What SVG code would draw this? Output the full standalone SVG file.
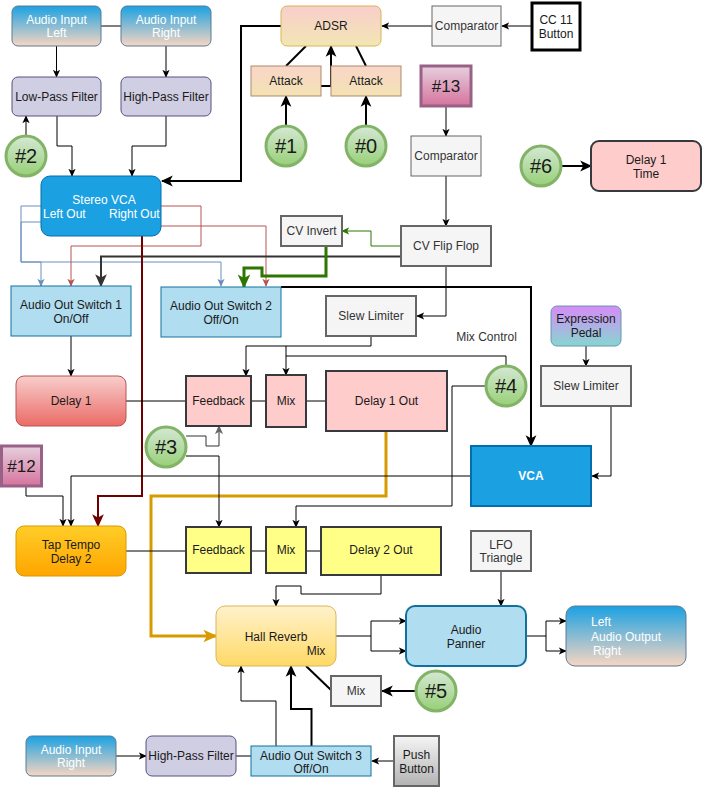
<svg xmlns="http://www.w3.org/2000/svg" width="703" height="795" viewBox="0 0 703 795">
<style>
text{font-family:"Liberation Sans",Arial,sans-serif;font-size:12px;fill:#1a1a1a;text-anchor:middle;dominant-baseline:central}
.w{fill:#ffffff}
.g{fill:#333333}
.big{font-size:20px}
.mid{font-size:17px}
.st{text-anchor:start}
.ln{fill:none;stroke:#000;stroke-width:1}
.th{fill:none;stroke:#000;stroke-width:2}
.gray{fill:#f5f5f5;stroke:#666666;stroke-width:2}
.pink{fill:#ffcccc;stroke:#36393d;stroke-width:2}
.yel{fill:#ffff88;stroke:#36393d;stroke-width:2}
.sw{fill:#b1ddf0;stroke:#10739e;stroke-width:1}
.flt{fill:#d0cee2;stroke:#56517e;stroke-width:1}
.inp{fill:url(#gIn);stroke:#5a7b93;stroke-width:1}
.circ{fill:url(#gGreen);stroke:#82b366;stroke-width:3}
.mag{fill:url(#gMag);stroke:#996185;stroke-width:3}
</style>
<defs>
<linearGradient id="gIn" x1="0" y1="0" x2="0" y2="1"><stop offset="0" stop-color="#1ba1e2"/><stop offset="1" stop-color="#f8d6c2"/></linearGradient>
<linearGradient id="gGreen" x1="0" y1="0" x2="0" y2="1"><stop offset="0" stop-color="#d5e8d4"/><stop offset="1" stop-color="#97d077"/></linearGradient>
<linearGradient id="gMag" x1="0" y1="0" x2="0" y2="1"><stop offset="0" stop-color="#e6d0de"/><stop offset="1" stop-color="#d5739d"/></linearGradient>
<linearGradient id="gAdsr" x1="0" y1="0" x2="0" y2="1"><stop offset="0" stop-color="#f8cecc"/><stop offset="1" stop-color="#f3e6b3"/></linearGradient>
<linearGradient id="gAtk" x1="0" y1="0" x2="0" y2="1"><stop offset="0" stop-color="#f9d6c8"/><stop offset="1" stop-color="#f3e2b4"/></linearGradient>
<linearGradient id="gD1" x1="0" y1="0" x2="0" y2="1"><stop offset="0" stop-color="#f8cecc"/><stop offset="1" stop-color="#ea6b66"/></linearGradient>
<linearGradient id="gTap" x1="0" y1="0" x2="0" y2="1"><stop offset="0" stop-color="#ffcd28"/><stop offset="1" stop-color="#ffa500"/></linearGradient>
<linearGradient id="gHall" x1="0" y1="0" x2="0" y2="1"><stop offset="0" stop-color="#fff2cc"/><stop offset="1" stop-color="#ffd966"/></linearGradient>
<linearGradient id="gPed" x1="0" y1="0" x2="0" y2="1"><stop offset="0" stop-color="#d68cf7"/><stop offset="1" stop-color="#86d6d0"/></linearGradient>
<linearGradient id="gPush" x1="0" y1="0" x2="0" y2="1"><stop offset="0" stop-color="#f5f5f5"/><stop offset="1" stop-color="#b3b3b3"/></linearGradient>
<marker id="a" viewBox="0 0 10 10" refX="9" refY="5" markerWidth="8" markerHeight="8" markerUnits="userSpaceOnUse" orient="auto"><path d="M0,0.5L10,5L0,9.5L2.5,5z" fill="#000"/></marker>
<marker id="aT" viewBox="0 0 10 10" refX="9" refY="5" markerWidth="12" markerHeight="12" markerUnits="userSpaceOnUse" orient="auto"><path d="M0,0.5L10,5L0,9.5L2.5,5z" fill="#000"/></marker>
<marker id="aB" viewBox="0 0 10 10" refX="9" refY="5" markerWidth="8" markerHeight="8" markerUnits="userSpaceOnUse" orient="auto"><path d="M0,0.5L10,5L0,9.5L2.5,5z" fill="#6c8ebf"/></marker>
<marker id="aR" viewBox="0 0 10 10" refX="9" refY="5" markerWidth="8" markerHeight="8" markerUnits="userSpaceOnUse" orient="auto"><path d="M0,0.5L10,5L0,9.5L2.5,5z" fill="#b85450"/></marker>
<marker id="aG" viewBox="0 0 10 10" refX="9" refY="5" markerWidth="14" markerHeight="14" markerUnits="userSpaceOnUse" orient="auto"><path d="M0,0.5L10,5L0,9.5L2.5,5z" fill="#2d7600"/></marker>
<marker id="aGs" viewBox="0 0 10 10" refX="9" refY="5" markerWidth="8" markerHeight="8" markerUnits="userSpaceOnUse" orient="auto"><path d="M0,0.5L10,5L0,9.5L2.5,5z" fill="#2d7600"/></marker>
<marker id="aDR" viewBox="0 0 10 10" refX="9" refY="5" markerWidth="13" markerHeight="13" markerUnits="userSpaceOnUse" orient="auto"><path d="M0,0.5L10,5L0,9.5L2.5,5z" fill="#6f0000"/></marker>
<marker id="aGo" viewBox="0 0 10 10" refX="9" refY="5" markerWidth="14" markerHeight="14" markerUnits="userSpaceOnUse" orient="auto"><path d="M0,0.5L10,5L0,9.5L2.5,5z" fill="#d79b00"/></marker>
<marker id="aDG" viewBox="0 0 10 10" refX="9" refY="5" markerWidth="13" markerHeight="13" markerUnits="userSpaceOnUse" orient="auto"><path d="M0,0.5L10,5L0,9.5L2.5,5z" fill="#333333"/></marker>
<marker id="aGr" viewBox="0 0 10 10" refX="9" refY="5" markerWidth="9" markerHeight="9" markerUnits="userSpaceOnUse" orient="auto"><path d="M0,0.5L10,5L0,9.5L2.5,5z" fill="#666666"/></marker>
</defs>
<rect width="703" height="795" fill="#ffffff"/>
<g id="connectors">
<path class="ln" d="M101,26H121"/>
<path class="ln" d="M56.5,46V77" marker-end="url(#a)"/>
<path class="ln" d="M166,46V77" marker-end="url(#a)"/>
<path class="ln" d="M26,135V116" marker-end="url(#a)"/>
<path class="ln" d="M57,116V146H72V176" marker-end="url(#a)"/>
<path class="ln" d="M166,116V146H132V176" marker-end="url(#a)"/>
<path class="th" d="M281,26H241V181H162" marker-end="url(#aT)"/>
<path class="ln" d="M432,26H382" marker-end="url(#a)"/>
<path class="ln" d="M531,26H502" marker-end="url(#a)"/>
<path class="th" d="M286,66L306,46"/>
<path class="th" d="M366,66L356,46"/>
<path class="th" d="M321,86H331V46" marker-end="url(#aT)"/>
<path class="th" d="M286,126V96" marker-end="url(#aT)"/>
<path class="th" d="M366,126V96" marker-end="url(#aT)"/>
<path class="ln" d="M446,107V136" marker-end="url(#a)"/>
<path class="ln" d="M446,176V226" marker-end="url(#a)"/>
<path class="th" d="M562,166H591" marker-end="url(#aT)"/>
<path fill="none" stroke="#2d7600" stroke-width="1" d="M401,246H371V231H342" marker-end="url(#aGs)"/>
<path fill="none" stroke="#6c8ebf" stroke-width="1" d="M41,206H21V262H41V286" marker-end="url(#aB)"/>
<path fill="none" stroke="#6c8ebf" stroke-width="1" d="M41,222H21V262H221V286" marker-end="url(#aB)"/>
<path fill="none" stroke="#b85450" stroke-width="1" d="M161,206H201V246H71V286" marker-end="url(#aR)"/>
<path fill="none" stroke="#b85450" stroke-width="1" d="M161,226H266V286" marker-end="url(#aR)"/>
<path fill="none" stroke="#333333" stroke-width="2" d="M401,256.5H101V286" marker-end="url(#aDG)"/>
<path fill="none" stroke="#2d7600" stroke-width="3" d="M326,246V276H262V268H244V287" marker-end="url(#aG)"/>
<path fill="none" stroke="#6f0000" stroke-width="2" d="M142,236V496H98V526" marker-end="url(#aDR)"/>
<path class="th" d="M281,287H531V446" marker-end="url(#aT)"/>
<path class="ln" d="M71,336V376" marker-end="url(#a)"/>
<path class="ln" d="M126,401H186M251,401H266M306,401H326"/>
<path class="ln" d="M446,266V316H417" marker-end="url(#a)"/>
<path class="ln" d="M371,336V346H246V376" marker-end="url(#a)"/>
<path class="ln" d="M286,346V375" marker-end="url(#a)"/>
<path class="ln" d="M506,366V356H286"/>
<path class="ln" d="M486,386H452V506H296V527" marker-end="url(#a)"/>
<path fill="none" stroke="#d79b00" stroke-width="3" d="M386,431V496H151V636H216" marker-end="url(#aGo)"/>
<path fill="none" stroke="#333" stroke-width="1" d="M186,436H206V446H219V426" marker-end="url(#aGr)"/>
<path class="ln" d="M186,456H219V527" marker-end="url(#a)"/>
<path class="ln" d="M471,476H71V526" marker-end="url(#a)"/>
<path class="ln" d="M26,486V496H63V526" marker-end="url(#a)"/>
<path class="ln" d="M586,346V366" marker-end="url(#a)"/>
<path class="ln" d="M611,406V476H592" marker-end="url(#a)"/>
<path class="ln" d="M126,551H186M251,551H266M306,551H321"/>
<path class="ln" d="M381,575V594H301V586H276V606" marker-end="url(#a)"/>
<path class="ln" d="M336,636H371M371,621V651"/>
<path class="ln" d="M371,621H406" marker-end="url(#a)"/>
<path class="ln" d="M371,651H406" marker-end="url(#a)"/>
<path class="ln" d="M501,571V606" marker-end="url(#a)"/>
<path class="ln" d="M526,636H546M546,621V651"/>
<path class="ln" d="M546,621H566" marker-end="url(#a)"/>
<path class="ln" d="M546,651H566" marker-end="url(#a)"/>
<path class="th" d="M331,690L306,666"/>
<path class="th" d="M415,691H382" marker-end="url(#aT)"/>
<path class="ln" d="M276,746V701H241V666" marker-end="url(#a)"/>
<path class="th" d="M311.5,746V709H291V666" marker-end="url(#aT)"/>
<path class="ln" d="M394,761H372" marker-end="url(#a)"/>
<path class="ln" d="M116,756H146" marker-end="url(#a)"/>
<path class="ln" d="M236,756H251"/>
</g>
<g id="audio-input-left"><rect class="inp" x="12" y="6" width="89" height="40" rx="6"/><text class="w" x="56.5" y="19.5">Audio Input</text><text class="w" x="56.5" y="33">Left</text></g>
<g id="audio-input-right"><rect class="inp" x="121" y="6" width="90" height="40" rx="6"/><text class="w" x="166" y="19.5">Audio Input</text><text class="w" x="166" y="33">Right</text></g>
<g id="low-pass"><rect class="flt" x="12" y="77" width="89" height="39" rx="6"/><text x="56.5" y="96.5">Low-Pass Filter</text></g>
<g id="high-pass"><rect class="flt" x="121" y="77" width="90" height="39" rx="6"/><text x="166" y="96.5">High-Pass Filter</text></g>
<g id="n2"><circle class="circ" cx="26" cy="156" r="20"/><text class="big" x="26" y="156">#2</text></g>
<g id="stereo-vca"><rect x="41" y="176" width="120" height="60" rx="9" fill="#1ba1e2" stroke="#006eaf"/><text class="w" x="104" y="200">Stereo VCA</text><text class="w st" x="43" y="214">Left Out</text><text class="w st" x="109" y="214">Right Out</text></g>
<g id="adsr"><rect x="281" y="6" width="100" height="40" rx="6" fill="url(#gAdsr)" stroke="#d6b656"/><text x="331" y="26">ADSR</text></g>
<g id="attack1"><rect x="251" y="66" width="70" height="30" fill="url(#gAtk)" stroke="#b0896a"/><text x="286" y="81">Attack</text></g>
<g id="attack2"><rect x="331" y="66" width="70" height="30" fill="url(#gAtk)" stroke="#b0896a"/><text x="366" y="81">Attack</text></g>
<g id="n1"><circle class="circ" cx="286" cy="146" r="20"/><text class="big" x="286" y="146">#1</text></g>
<g id="n0"><circle class="circ" cx="366" cy="146" r="20"/><text class="big" x="366" y="146">#0</text></g>
<g id="comparator1"><rect x="432" y="6" width="69" height="40" fill="#f5f5f5" stroke="#666666"/><text class="g" x="466.5" y="26">Comparator</text></g>
<g id="cc11"><rect x="532" y="3" width="48" height="47" fill="#ffffff" stroke="#000" stroke-width="3"/><text x="556" y="20">CC 11</text><text x="556" y="34">Button</text></g>
<g id="n13"><rect class="mag" x="421" y="66" width="50" height="40"/><text class="mid" x="446" y="86">#13</text></g>
<g id="comparator2"><rect x="411" y="136" width="70" height="40" fill="#f5f5f5" stroke="#666666"/><text class="g" x="446" y="156">Comparator</text></g>
<g id="n6"><circle class="circ" cx="541" cy="166" r="20"/><text class="big" x="541" y="166">#6</text></g>
<g id="delay1-time"><rect class="pink" x="591" y="141" width="110" height="50" rx="8"/><text x="646" y="159.5">Delay 1</text><text x="646" y="173.5">Time</text></g>
<g id="cv-invert"><rect class="gray" x="281" y="216" width="61" height="30"/><text class="g" x="311.5" y="231">CV Invert</text></g>
<g id="cv-flipflop"><rect class="gray" x="401" y="226" width="90" height="40"/><text class="g" x="446" y="246">CV Flip Flop</text></g>
<g id="switch1"><rect class="sw" x="11" y="286" width="120" height="50"/><text x="71" y="304.5">Audio Out Switch 1</text><text x="71" y="318.5">On/Off</text></g>
<g id="switch2"><rect class="sw" x="161" y="287" width="120" height="50"/><text x="221" y="305.5">Audio Out Switch 2</text><text x="221" y="319.5">Off/On</text></g>
<g id="slew1"><rect class="gray" x="326" y="296" width="90" height="40"/><text class="g" x="371" y="316">Slew Limiter</text></g>
<g id="mix-control"><text class="g" x="486.5" y="337">Mix Control</text></g>
<g id="pedal"><rect x="551" y="306" width="70" height="40" rx="6" fill="url(#gPed)" stroke="#6a96b0"/><text x="586" y="319">Expression</text><text x="586" y="333">Pedal</text></g>
<g id="slew2"><rect class="gray" x="541" y="366" width="90" height="40"/><text class="g" x="586" y="386">Slew Limiter</text></g>
<g id="delay1"><rect x="16" y="376" width="110" height="50" rx="8" fill="url(#gD1)" stroke="#b85450"/><text x="71" y="401">Delay 1</text></g>
<g id="feedback1"><rect class="pink" x="186" y="376" width="65" height="50"/><text x="218.5" y="401">Feedback</text></g>
<g id="mix1"><rect class="pink" x="266" y="375" width="40" height="52"/><text x="286" y="401">Mix</text></g>
<g id="delay1-out"><rect class="pink" x="326" y="371" width="121" height="60"/><text x="386.5" y="401">Delay 1 Out</text></g>
<g id="n4"><circle class="circ" cx="506" cy="386" r="20"/><text class="big" x="506" y="386">#4</text></g>
<g id="n3"><circle class="circ" cx="166" cy="447" r="20"/><text class="big" x="166" y="447">#3</text></g>
<g id="n12"><rect class="mag" x="1.5" y="446" width="40" height="40"/><text class="mid" x="21.5" y="466">#12</text></g>
<g id="vca"><rect x="471" y="446" width="120" height="60" fill="#1ba1e2" stroke="#006eaf" stroke-width="2"/><text class="w" x="531" y="476" font-weight="bold">VCA</text></g>
<g id="tap-tempo"><rect x="16" y="526" width="110" height="50" rx="8" fill="url(#gTap)" stroke="#d79b00"/><text x="71" y="544.5">Tap Tempo</text><text x="71" y="558.5">Delay 2</text></g>
<g id="feedback2"><rect class="yel" x="186" y="527" width="65" height="46"/><text x="218.5" y="550">Feedback</text></g>
<g id="mix2"><rect class="yel" x="266" y="527" width="40" height="46"/><text x="286" y="550">Mix</text></g>
<g id="delay2-out"><rect class="yel" x="321" y="527" width="120" height="48"/><text x="381" y="550">Delay 2 Out</text></g>
<g id="lfo"><rect class="gray" x="471" y="531" width="60" height="40"/><text class="g" x="501" y="544.5">LFO</text><text class="g" x="501" y="558">Triangle</text></g>
<g id="hall-reverb"><rect x="216" y="606" width="120" height="60" rx="9" fill="url(#gHall)" stroke="#d6b656"/><text x="276" y="637">Hall Reverb</text><text x="316" y="650.5">Mix</text></g>
<g id="audio-panner"><rect x="406" y="606" width="120" height="60" rx="9" fill="#b1ddf0" stroke="#10739e" stroke-width="2"/><text x="466" y="630">Audio</text><text x="466" y="643.5">Panner</text></g>
<g id="audio-output"><rect class="inp" x="566" y="606" width="120" height="60" rx="9"/><text class="w st" x="591" y="622">Left</text><text class="w" x="626" y="637">Audio Output</text><text class="w st" x="593" y="651">Right</text></g>
<g id="mix3"><rect class="gray" x="331" y="676" width="50" height="30"/><text class="g" x="356" y="691">Mix</text></g>
<g id="n5"><circle class="circ" cx="436" cy="691" r="20"/><text class="big" x="436" y="691">#5</text></g>
<g id="audio-input-right2"><rect class="inp" x="26" y="736" width="90" height="40" rx="6"/><text class="w" x="71" y="749.5">Audio Input</text><text class="w" x="71" y="763">Right</text></g>
<g id="high-pass2"><rect class="flt" x="146" y="736" width="90" height="40" rx="6"/><text x="191" y="756">High-Pass Filter</text></g>
<g id="switch3"><rect class="sw" x="251" y="746" width="120" height="30"/><text x="311" y="756">Audio Out Switch 3</text><text x="311" y="769">Off/On</text></g>
<g id="push-button"><rect x="394" y="736" width="45" height="50" fill="url(#gPush)" stroke="#666666" stroke-width="2"/><text x="416.5" y="754.5">Push</text><text x="416.5" y="768.5">Button</text></g>
</svg>
